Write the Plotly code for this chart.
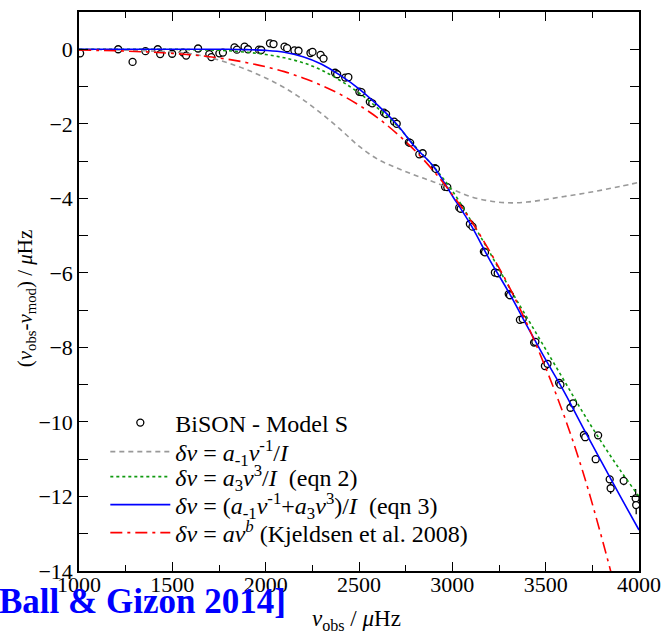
import plotly.graph_objects as go

# ---------------- data ----------------
obs_freq = [1006, 1210, 1287, 1356, 1422, 1435, 1499, 1558, 1574, 1638, 1698, 1709,
            1752, 1771, 1833, 1846, 1887, 1905, 1964, 1976, 2023, 2042, 2101, 2115,
            2154, 2176, 2240, 2251, 2294, 2310, 2372, 2383, 2426, 2443, 2502, 2513,
            2558, 2571, 2634, 2645, 2688, 2702, 2767, 2774, 2823, 2841, 2907, 2912,
            2961, 2973, 3037, 3045, 3094, 3108, 3169, 3175, 3228, 3243, 3302, 3309,
            3362, 3377, 3438, 3445, 3496, 3510, 3572, 3579, 3633, 3647, 3705, 3712,
            3781, 3768, 3843, 3848, 3918, 3982, 3985]
obs_diff = [-0.11, 0.00, -0.34, -0.05, 0.00, -0.13, -0.12, -0.09, -0.17, 0.02, -0.13, -0.21,
            -0.11, -0.09, 0.05, -0.01, 0.07, 0.00, -0.01, -0.02, 0.16, 0.14, 0.07, 0.03,
            -0.03, -0.04, -0.10, -0.07, -0.15, -0.25, -0.63, -0.67, -0.76, -0.75, -1.14, -1.15,
            -1.41, -1.45, -1.70, -1.74, -1.94, -2.00, -2.50, -2.51, -2.82, -2.79, -3.19, -3.21,
            -3.69, -3.70, -4.25, -4.28, -4.69, -4.76, -5.43, -5.45, -5.99, -6.01, -6.57, -6.60,
            -7.26, -7.24, -7.87, -7.85, -8.50, -8.44, -8.95, -9.00, -9.62, -9.50, -10.35, -10.41,
            -10.36, -11.00, -11.54, -11.78, -11.58, -12.05, -12.23]
obs_err = [0.02] * 66 + [0.04, 0.04, 0.05, 0.05, 0.06, 0.06,
                          0.08, 0.08, 0.10, 0.15, 0.12, 0.25, 0.25]

curve_freq = [1000, 1100, 1200, 1300, 1400, 1500, 1600, 1700, 1800, 1900, 2000, 2100,
              2200, 2300, 2400, 2500, 2600, 2700, 2800, 2900, 3000, 3100, 3200, 3300,
              3400, 3500, 3600, 3700, 3800, 3900, 4000]
inv_term = [0.00, -0.01, -0.02, -0.03, -0.05, -0.07, -0.12, -0.22, -0.37, -0.55, -0.77, -1.03,
            -1.35, -1.73, -2.15, -2.60, -2.95, -3.18, -3.38, -3.56, -3.76, -3.96, -4.07, -4.12,
            -4.10, -4.03, -3.95, -3.87, -3.78, -3.68, -3.57]
cubic_term = [0.00, 0.00, 0.00, 0.00, 0.00, 0.00, -0.01, -0.02, -0.04, -0.08, -0.14, -0.23,
              -0.36, -0.56, -0.84, -1.17, -1.58, -2.03, -2.60, -3.15, -3.80, -4.60, -5.45, -6.35,
              -7.20, -8.05, -8.90, -9.75, -10.55, -11.30, -12.00]
combined = [0.00, 0.00, 0.00, 0.00, 0.00, 0.00, 0.00, 0.00, 0.00, -0.01, -0.03, -0.08,
            -0.20, -0.40, -0.70, -1.06, -1.50, -2.00, -2.62, -3.15, -3.93, -4.72, -5.65, -6.50,
            -7.42, -8.33, -9.20, -10.15, -11.08, -12.00, -12.90]
power_law = [-0.02, -0.03, -0.04, -0.06, -0.08, -0.11, -0.15, -0.20, -0.27, -0.36, -0.47, -0.60,
             -0.77, -0.97, -1.21, -1.50, -1.84, -2.25, -2.72, -3.27, -3.90, -4.60, -5.42, -6.33,
             -7.37, -8.55, -9.85, -11.35, -13.10, -15.00, -17.00]

legend_names = [
    "BiSON - Model S",
    "<i>δν</i> = <i>a</i><sub>-1</sub><i>ν</i><sup>-1</sup>/<i>I</i>",
    "<i>δν</i> = <i>a</i><sub>3</sub><i>ν</i><sup>3</sup>/<i>I</i>  (eqn 2)",
    "<i>δν</i> = (<i>a</i><sub>-1</sub><i>ν</i><sup>-1</sup>+<i>a</i><sub>3</sub><i>ν</i><sup>3</sup>)/<i>I</i>  (eqn 3)",
    "<i>δν</i> = <i>aν</i><sup><i>b</i></sup> (Kjeldsen et al. 2008)",
]

x_ticks = [1000, 1500, 2000, 2500, 3000, 3500, 4000]
y_ticks = [0, -2, -4, -6, -8, -10, -12, -14]

FONT = "Liberation Serif, Times New Roman, DejaVu Serif, serif"

fig = go.Figure()

fig.add_trace(go.Scatter(
    x=obs_freq, y=obs_diff, mode="markers", name=legend_names[0], legend="legend",
    marker=dict(symbol="circle", size=7, color="white",
                line=dict(color="black", width=1.3)),
    error_y=dict(type="data", array=obs_err, color="black", thickness=1.3, width=0),
))
fig.add_trace(go.Scatter(
    x=curve_freq, y=inv_term, mode="lines", line_shape="spline",
    name=legend_names[1], legend="legend2",
    line=dict(color="#999999", width=1.6, dash="5px,4px"),
))
fig.add_trace(go.Scatter(
    x=curve_freq, y=cubic_term, mode="lines", line_shape="spline",
    name=legend_names[2], legend="legend3",
    line=dict(color="#109a10", width=1.6, dash="dot"),
))
fig.add_trace(go.Scatter(
    x=curve_freq, y=combined, mode="lines", line_shape="spline",
    name=legend_names[3], legend="legend4",
    line=dict(color="#0000ff", width=1.6),
))
fig.add_trace(go.Scatter(
    x=curve_freq, y=power_law, mode="lines", line_shape="spline",
    name=legend_names[4], legend="legend5",
    line=dict(color="#ff0000", width=1.6, dash="12px,5px,3px,5px"),
))

axis_common = dict(
    showline=True, linecolor="black", linewidth=1.6, mirror="ticks",
    ticks="inside", tickcolor="black", tickwidth=1.2, ticklen=9,
    showgrid=False, zeroline=False, automargin=False,
    tickfont=dict(family=FONT, size=22, color="black"),
)

fig.update_xaxes(range=[1000, 4000], tickvals=x_ticks,
                 ticktext=[str(v) for v in x_ticks], ticklabelstandoff=-7,
                 minor=dict(dtick=250, tick0=1000, ticks="inside", ticklen=6,
                            tickcolor="black", tickwidth=1.2),
                 **axis_common)
fig.update_yaxes(range=[-14, 1], tickvals=y_ticks,
                 minor=dict(dtick=1, tick0=0, ticks="inside", ticklen=9,
                            tickcolor="black", tickwidth=1.2),
                 **axis_common)


def legend_at(row_y):
    return dict(x=0.047, y=row_y, xanchor="left", yanchor="middle",
                bgcolor="rgba(0,0,0,0)", borderwidth=0,
                font=dict(family=FONT, size=24, color="black"),
                itemwidth=60, tracegroupgap=0)


row_pos = [0.2648, 0.2129, 0.1682, 0.1181, 0.0680]

fig.update_layout(
    width=667, height=636,
    margin=dict(l=79, r=28, t=12, b=65, autoexpand=False),
    paper_bgcolor="white", plot_bgcolor="white",
    font=dict(family=FONT, color="black"),
    showlegend=True,
    legend=legend_at(row_pos[0]),
    legend2=legend_at(row_pos[1]),
    legend3=legend_at(row_pos[2]),
    legend4=legend_at(row_pos[3]),
    legend5=legend_at(row_pos[4]),
    annotations=[
        dict(text="(<i>ν</i><sub>obs</sub>-<i>ν</i><sub>mod</sub>) / <i>μ</i>Hz",
             xref="paper", yref="paper", x=-0.0945, y=0.488, xanchor="center",
             yanchor="middle", textangle=-90, showarrow=False,
             font=dict(family=FONT, size=21, color="black")),
        dict(text="<i>ν</i><sub>obs</sub> / <i>μ</i>Hz",
             xref="paper", yref="paper", x=0.496, y=-0.088, xanchor="center",
             yanchor="middle", showarrow=False,
             font=dict(family=FONT, size=23, color="black")),
        dict(text="<b>Ball &amp; Gizon 2014]</b>",
             xref="paper", yref="paper", x=-0.146, y=-0.016, xanchor="left",
             yanchor="top", showarrow=False,
             font=dict(family=FONT, size=35, color="#0000ff")),
    ],
)

fig.write_html("out.html", config={"displayModeBar": False},
               post_script="document.body.style.margin='0';")
